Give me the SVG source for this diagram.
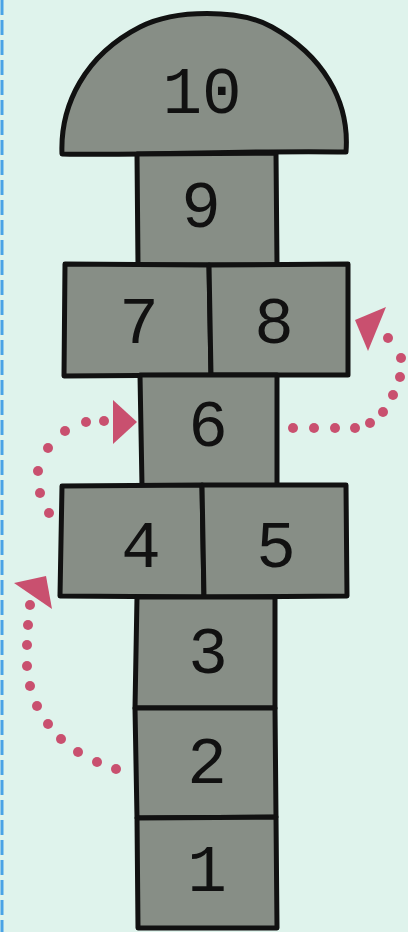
<svg xmlns="http://www.w3.org/2000/svg" width="408" height="932" viewBox="0 0 408 932">
<style>
.cell{fill:#878e86;stroke:#111;stroke-width:5;stroke-linejoin:round;stroke-linecap:round}
.num{font-family:"Liberation Mono",monospace;font-size:66px;fill:#111;text-anchor:middle}
.dot{fill:#c9506f}
.head{fill:#c9506f}
</style>
<rect width="408" height="932" fill="#dff3ec"/>
<line x1="2" y1="0" x2="2" y2="932" stroke="#4aa3e6" stroke-width="3" stroke-dasharray="15 5"/>
<g id="cell10"><path class="cell" d="M 62 154 C 60 105 85 55 140 27 C 175 9 240 9 272 27 C 322 55 350 100 346 152 C 250 150 150 156 62 154 Z"/><text class="num" x="202" y="113">10</text></g>
<g id="cell9"><path class="cell" d="M 137 154 L 276 153 L 277 265 L 138 265 Z"/><text class="num" x="201" y="227">9</text></g>
<g id="cell7"><path class="cell" d="M 65 264 L 209 265 L 211 375 L 64 376 Z"/><text class="num" x="139" y="343">7</text></g>
<g id="cell8"><path class="cell" d="M 209 265 L 348 264 L 348 375 L 211 375 Z"/><text class="num" x="274" y="343">8</text></g>
<g id="cell6"><path class="cell" d="M 140 375 L 277 375 L 277 487 L 142 486 Z"/><text class="num" x="208" y="446">6</text></g>
<g id="cell4"><path class="cell" d="M 62 486 L 202 485 L 204 597 L 60 596 Z"/><text class="num" x="141" y="567">4</text></g>
<g id="cell5"><path class="cell" d="M 202 485 L 346 485 L 347 596 L 204 597 Z"/><text class="num" x="276" y="567">5</text></g>
<g id="cell3"><path class="cell" d="M 137 597 L 275 597 L 275 708 L 135 708 Z"/><text class="num" x="208" y="673">3</text></g>
<g id="cell2"><path class="cell" d="M 135 708 L 275 708 L 276 817 L 137 818 Z"/><text class="num" x="207" y="783">2</text></g>
<g id="cell1"><path class="cell" d="M 137 818 L 276 817 L 277 928 L 138 928 Z"/><text class="num" x="207" y="891">1</text></g>
<g id="connectors">
<g id="arrow-2-4">
<circle class="dot" cx="116" cy="769" r="5"/><circle class="dot" cx="97" cy="762" r="5"/><circle class="dot" cx="78" cy="752" r="5"/><circle class="dot" cx="61" cy="739" r="5"/><circle class="dot" cx="48" cy="724" r="5"/><circle class="dot" cx="37" cy="706" r="5"/><circle class="dot" cx="30" cy="686" r="5"/><circle class="dot" cx="27" cy="666" r="5"/><circle class="dot" cx="27" cy="645" r="5"/><circle class="dot" cx="28" cy="625" r="5"/><circle class="dot" cx="30" cy="605" r="5"/>
<path class="head" d="M 14 583 L 46 576 L 52 609 Z"/>
</g>
<g id="arrow-4-6">
<circle class="dot" cx="49" cy="513" r="5"/><circle class="dot" cx="40" cy="493" r="5"/><circle class="dot" cx="38" cy="471" r="5"/><circle class="dot" cx="48" cy="448" r="5"/><circle class="dot" cx="65" cy="431" r="5"/><circle class="dot" cx="86" cy="422" r="5"/><circle class="dot" cx="104" cy="421" r="5"/>
<path class="head" d="M 113 400 L 137 422 L 113 444 Z"/>
</g>
<g id="arrow-6-8">
<circle class="dot" cx="293" cy="428" r="5"/><circle class="dot" cx="314" cy="428" r="5"/><circle class="dot" cx="335" cy="428" r="5"/><circle class="dot" cx="355" cy="428" r="5"/><circle class="dot" cx="370" cy="423" r="5"/><circle class="dot" cx="383" cy="412" r="5"/><circle class="dot" cx="393" cy="395" r="5"/><circle class="dot" cx="400" cy="377" r="5"/><circle class="dot" cx="401" cy="358" r="5"/><circle class="dot" cx="388" cy="338" r="5"/>
<path class="head" d="M 355 320 L 386 307 L 368 351 Z"/>
</g>
</g>
</svg>
